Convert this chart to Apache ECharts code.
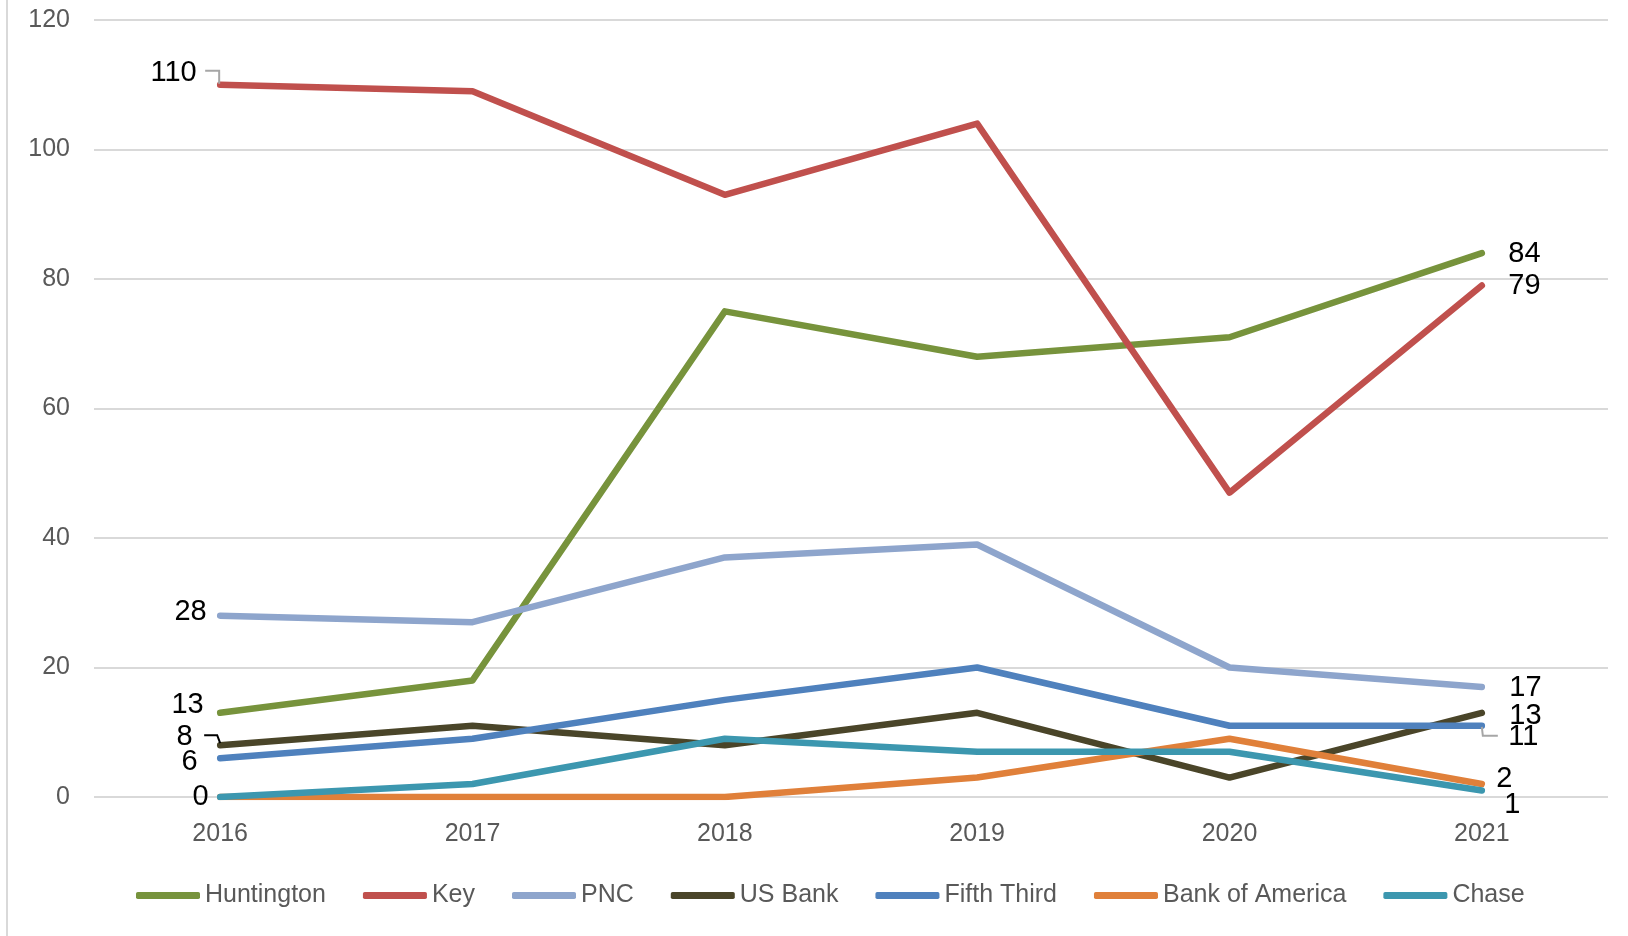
<!DOCTYPE html>
<html>
<head>
<meta charset="utf-8">
<script src="https://cdn.jsdelivr.net/npm/echarts@6/dist/echarts.min.js"></script>
<style>
html,body{margin:0;padding:0;background:#fff;}
#chart{width:1628px;height:936px;}
</style>
</head>
<body>
<div id="chart"></div>
<script>
const years = ['2016', '2017', '2018', '2019', '2020', '2021'];
const yTicks = [0, 20, 40, 60, 80, 100, 120];

const huntington = [13, 18, 75, 68, 71, 84];
const key = [110, 109, 93, 104, 47, 79];
const pnc = [28, 27, 37, 39, 20, 17];
const usBank = [8, 11, 8, 13, 3, 13];
const fifthThird = [6, 9, 15, 20, 11, 11];
const bankOfAmerica = [0, 0, 0, 3, 9, 2];
const chase = [0, 2, 9, 7, 7, 1];

const seriesNames = ['Huntington', 'Key', 'PNC', 'US Bank', 'Fifth Third', 'Bank of America', 'Chase'];
const seriesValues = [huntington, key, pnc, usBank, fifthThird, bankOfAmerica, chase];
const seriesColors = ['#77933C', '#C0504D', '#8EA5CC', '#4A4529', '#4F81BD', '#E0803A', '#3C97AF'];

// label placement (style only): first point / last point
const labelPlacement = [
  {first: {dist: 16, off: [0, -8]},  last: {dist: 26, off: [0, 1]}},
  {first: {dist: 23, off: [0, -12]}, last: {dist: 26, off: [0, 1]}},
  {first: {dist: 13, off: [0, -4]},  last: {dist: 27, off: [0, 1]}},
  {first: {dist: 27, off: [0, -8]},  last: {dist: 27, off: [0, 3]}},
  {first: {dist: 22, off: [0, 4]},   last: {dist: 26, off: [0, 11]}},
  {first: {dist: 11, off: [0, 0]},   last: {dist: 14, off: [0, -5]}},
  {first: null,                      last: {dist: 22, off: [0, 14]}}
];

// leader lines: [series index, data index, colour, relative polyline in px]
const leaders = [
  [1, 0, '#A6A6A6', [[-15, -14], [-1, -14], [-1, -1]]],
  [3, 0, '#000000', [[-16, -10], [-3, -10], [0, -2]]],
  [4, 5, '#A6A6A6', [[0, 1], [1, 10], [16, 10]]]
];

const FONT = "'Liberation Sans', Arial, sans-serif";

function buildData(values, place) {
  return values.map(function (v, i) {
    const item = {value: v};
    let p = null, pos = null;
    if (i === 0 && place.first) { p = place.first; pos = 'left'; }
    if (i === values.length - 1 && place.last) { p = place.last; pos = 'right'; }
    if (p) {
      item.label = {show: true, position: pos, distance: p.dist, offset: p.off};
    }
    return item;
  });
}

const series = seriesNames.map(function (name, idx) {
  return {
    name: name,
    type: 'line',
    data: buildData(seriesValues[idx], labelPlacement[idx]),
    symbol: 'circle',
    symbolSize: 1,
    showSymbol: true,
    color: seriesColors[idx],
    itemStyle: {color: seriesColors[idx]},
    lineStyle: {width: 6.5, color: seriesColors[idx], cap: 'round', join: 'round'},
    label: {show: false, color: '#000', fontSize: 29, fontFamily: FONT},
    emphasis: {disabled: true},
    z: 2 + idx
  };
});

const chart = echarts.init(document.getElementById('chart'), null, {renderer: 'canvas'});
chart.setOption({
  animation: false,
  backgroundColor: '#ffffff',
  grid: {left: 94, right: 20, top: 20, bottom: 139, containLabel: false},
  xAxis: {
    type: 'category',
    data: years,
    boundaryGap: true,
    axisLine: {show: false},
    axisTick: {show: false},
    axisLabel: {color: '#595959', fontSize: 25, fontFamily: FONT, margin: 25}
  },
  yAxis: {
    type: 'value',
    min: yTicks[0],
    max: yTicks[yTicks.length - 1],
    interval: yTicks[1] - yTicks[0],
    axisLine: {show: false},
    axisTick: {show: false},
    axisLabel: {color: '#595959', fontSize: 25, fontFamily: FONT, margin: 24},
    splitLine: {lineStyle: {color: '#D9D9D9', width: 2}}
  },
  legend: {
    data: seriesNames,
    left: 131,
    top: 878,
    icon: 'roundRect',
    itemWidth: 64,
    itemHeight: 7,
    itemGap: 37,
    textStyle: {color: '#595959', fontSize: 25, fontFamily: FONT}
  },
  series: series
});

const graphics = [{
  type: 'line',
  shape: {x1: 7, y1: 0, x2: 7, y2: 936},
  style: {stroke: '#D9D9D9', lineWidth: 2}
}];
leaders.forEach(function (l) {
  const vals = seriesValues[l[0]];
  const pt = chart.convertToPixel({seriesIndex: l[0]}, [l[1], vals[l[1]]]);
  graphics.push({
    type: 'polyline',
    shape: {points: l[3].map(function (d) { return [pt[0] + d[0], pt[1] + d[1]]; })},
    style: {stroke: l[2], lineWidth: 2, fill: null},
    z: 20
  });
});
chart.setOption({graphic: graphics});
</script>
</body>
</html>
